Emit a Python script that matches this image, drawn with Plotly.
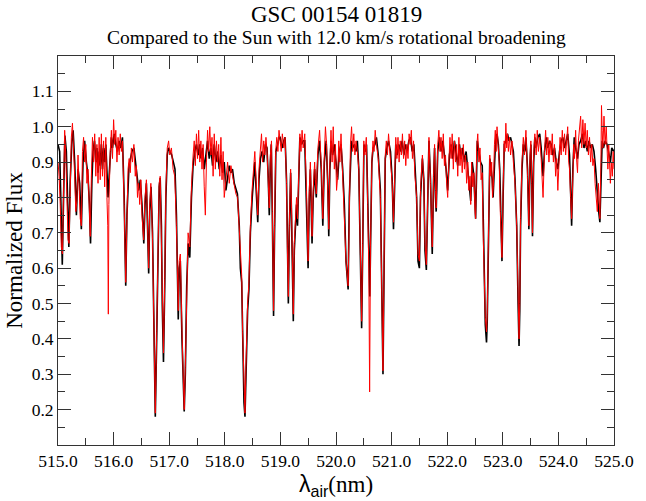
import plotly.graph_objects as go

# ---- Sun (black) spectrum: wavelength (nm), normalized flux ----
sun_wl = [
515.00,515.03,515.05,515.077,515.10,515.124,515.15,515.17,515.195,515.22,515.25,515.272,515.30,515.331,515.36,515.39,515.42,515.45,515.479,515.51,
515.54,515.565,515.585,515.61,515.63,515.656,515.68,515.70,515.72,515.74,515.76,515.78,515.80,515.82,515.84,515.86,515.88,515.90,515.92,515.94,
515.96,515.98,516.01,516.04,516.07,516.10,516.13,516.159,516.19,516.218,516.24,516.277,516.30,516.33,516.365,516.40,516.43,516.454,516.48,516.51,
516.543,516.565,516.59,516.61,516.631,516.65,516.673,516.70,516.72,516.75,516.775,516.80,516.82,516.838,516.86,516.875,516.897,516.92,516.94,516.965,
516.986,517.015,517.045,517.075,517.104,517.13,517.163,517.18,517.20,517.23,517.255,517.27,517.29,517.315,517.341,517.37,517.40,517.429,517.46,517.49,
517.52,517.547,517.57,517.60,517.63,517.66,517.69,517.72,517.75,517.78,517.81,517.84,517.87,517.90,517.93,517.96,517.99,518.02,518.05,518.08,
518.11,518.138,518.17,518.20,518.227,518.26,518.28,518.304,518.32,518.345,518.363,518.38,518.392,518.41,518.434,518.46,518.493,518.52,518.54,518.565,
518.593,518.615,518.641,518.67,518.70,518.73,518.759,518.78,518.80,518.82,518.836,518.855,518.877,518.895,518.918,518.95,518.975,518.995,519.03,519.06,
519.084,519.11,519.125,519.143,519.16,519.184,519.20,519.215,519.232,519.25,519.273,519.29,519.308,519.33,519.350,519.38,519.41,519.438,519.47,519.498,
519.52,519.539,519.555,519.569,519.59,519.616,519.63,519.645,519.675,519.705,519.735,519.763,519.79,519.823,519.85,519.870,519.89,519.911,519.94,519.97,
520.00,520.029,520.06,520.09,520.12,520.15,520.18,520.218,520.24,520.277,520.30,520.33,520.36,520.384,520.41,520.44,520.461,520.48,520.502,520.525,
520.549,520.57,520.591,520.608,520.625,520.645,520.667,520.70,520.727,520.76,520.798,520.82,520.845,520.865,520.886,520.915,520.945,520.98,521.01,521.034,
521.055,521.075,521.10,521.13,521.16,521.19,521.22,521.25,521.28,521.31,521.34,521.37,521.40,521.425,521.45,521.475,521.50,521.52,521.554,521.58,
521.60,521.625,521.645,521.672,521.70,521.731,521.755,521.773,521.79,521.802,521.83,521.861,521.89,521.92,521.95,521.98,522.009,522.04,522.07,522.10,
522.13,522.16,522.19,522.22,522.25,522.28,522.31,522.34,522.37,522.40,522.423,522.45,522.48,522.511,522.541,522.57,522.60,522.63,522.65,522.665,
522.685,522.707,522.72,522.735,522.75,522.766,522.79,522.81,522.825,522.85,522.87,522.896,522.92,522.945,522.965,522.985,523.005,523.026,523.055,523.085,
523.11,523.14,523.165,523.19,523.22,523.25,523.275,523.292,523.305,523.32,523.345,523.369,523.395,523.416,523.445,523.469,523.49,523.505,523.52,523.534,
523.555,523.576,523.60,523.63,523.664,523.69,523.724,523.75,523.783,523.81,523.84,523.871,523.90,523.93,523.96,523.99,524.02,524.05,524.078,524.11,
524.14,524.167,524.20,524.22,524.238,524.26,524.285,524.31,524.344,524.37,524.40,524.433,524.46,524.49,524.52,524.55,524.58,524.61,524.64,524.67,
524.70,524.725,524.746,524.765,524.787,524.81,524.84,524.876,524.905,524.935,524.96,525.00]
sun_flux = [
0.95,0.93,0.80,0.61,0.80,0.975,0.93,0.80,0.66,0.85,0.96,0.99,0.90,0.75,0.88,0.84,0.71,0.90,0.96,0.90,
0.86,0.78,0.67,0.85,0.93,0.96,0.90,0.94,0.87,0.93,0.89,0.95,0.88,0.94,0.90,0.95,0.85,0.80,0.86,0.93,
0.97,0.94,0.98,0.95,0.93,0.96,0.94,0.97,0.80,0.55,0.75,0.89,0.91,0.93,0.94,0.88,0.85,0.82,0.85,0.78,
0.67,0.78,0.84,0.72,0.585,0.76,0.83,0.70,0.42,0.18,0.40,0.70,0.83,0.855,0.72,0.50,0.335,0.55,0.80,0.92,
0.94,0.93,0.92,0.90,0.88,0.75,0.455,0.60,0.62,0.40,0.22,0.195,0.30,0.55,0.67,0.63,0.80,0.89,0.93,0.95,
0.92,0.95,0.91,0.94,0.88,0.92,0.96,0.91,0.94,0.89,0.95,0.90,0.93,0.88,0.92,0.87,0.90,0.82,0.86,0.89,
0.87,0.88,0.84,0.82,0.81,0.72,0.60,0.56,0.40,0.22,0.18,0.30,0.39,0.48,0.54,0.70,0.80,0.87,0.90,0.82,
0.73,0.85,0.91,0.93,0.90,0.95,0.94,0.86,0.75,0.90,0.95,0.75,0.465,0.70,0.93,0.95,0.97,0.97,0.94,0.96,
0.97,0.85,0.65,0.50,0.70,0.87,0.75,0.55,0.45,0.65,0.75,0.78,0.72,0.88,0.97,0.95,0.96,0.96,0.80,0.60,
0.80,0.88,0.77,0.67,0.80,0.88,0.84,0.80,0.92,0.96,0.88,0.72,0.90,0.96,0.85,0.69,0.88,0.96,0.92,0.95,
0.90,0.85,0.93,0.95,0.88,0.78,0.62,0.54,0.80,0.96,0.94,0.95,0.93,0.96,0.88,0.60,0.43,0.65,0.95,0.93,
0.95,0.80,0.63,0.52,0.70,0.90,0.94,0.95,0.97,0.92,0.82,0.55,0.30,0.60,0.91,0.94,0.96,0.93,0.85,0.71,
0.87,0.95,0.92,0.95,0.93,0.96,0.92,0.95,0.93,0.96,0.97,0.93,0.95,0.88,0.80,0.62,0.60,0.80,0.91,0.85,
0.65,0.595,0.80,0.96,0.85,0.64,0.85,0.94,0.80,0.76,0.93,0.97,0.93,0.96,0.92,0.88,0.82,0.92,0.95,0.91,
0.96,0.93,0.89,0.95,0.91,0.94,0.90,0.93,0.88,0.84,0.79,0.90,0.86,0.74,0.96,0.93,0.90,0.89,0.70,0.54,
0.44,0.39,0.45,0.60,0.80,0.91,0.88,0.85,0.80,0.92,0.96,0.98,0.95,0.88,0.72,0.62,0.80,0.95,0.96,0.98,
0.96,0.97,0.95,0.93,0.85,0.72,0.50,0.38,0.48,0.72,0.88,0.95,0.93,0.97,0.88,0.71,0.90,0.95,0.85,0.69,
0.90,0.97,0.94,0.97,0.98,0.94,0.86,0.93,0.97,0.94,0.96,0.95,0.92,0.94,0.90,0.88,0.93,0.96,0.97,0.94,
0.96,0.98,0.92,0.82,0.72,0.88,0.97,0.94,0.91,0.95,0.96,0.98,0.94,0.96,0.93,0.96,0.94,0.95,0.93,0.88,
0.80,0.76,0.73,0.85,0.96,0.94,0.96,0.95,0.92,0.90,0.94,0.93]

# ---- Star (red) spectrum ----
star_wl = [
515.00,515.02,515.04,515.06,515.08,515.10,515.12,515.14,515.16,515.18,515.20,515.22,515.24,515.26,515.28,515.30,515.32,515.34,515.36,515.38,
515.40,515.42,515.44,515.46,515.48,515.50,515.52,515.54,515.56,515.58,515.60,515.62,515.64,515.66,515.68,515.70,515.72,515.74,515.76,515.78,
515.80,515.82,515.84,515.86,515.88,515.895,515.905,515.915,515.94,515.96,515.98,516.00,516.02,516.04,516.06,516.08,516.10,516.12,516.14,516.16,
516.19,516.218,516.24,516.26,516.28,516.30,516.32,516.34,516.365,516.39,516.41,516.43,516.45,516.47,516.49,516.51,516.54,516.565,516.59,516.61,
516.63,516.65,516.67,516.70,516.72,516.75,516.775,516.80,516.82,516.838,516.86,516.875,516.897,516.92,516.94,516.965,516.99,517.01,517.04,517.07,
517.10,517.13,517.163,517.18,517.20,517.23,517.255,517.27,517.29,517.315,517.34,517.37,517.40,517.43,517.45,517.47,517.49,517.51,517.53,517.55,
517.57,517.59,517.61,517.63,517.65,517.67,517.69,517.71,517.73,517.75,517.77,517.79,517.81,517.83,517.85,517.87,517.89,517.91,517.93,517.95,
517.97,517.99,518.02,518.05,518.08,518.11,518.14,518.17,518.20,518.23,518.26,518.28,518.304,518.32,518.345,518.363,518.38,518.392,518.41,518.434,
518.46,518.49,518.515,518.54,518.565,518.593,518.615,518.64,518.66,518.68,518.70,518.72,518.74,518.76,518.78,518.80,518.82,518.84,518.855,518.877,
518.895,518.915,518.935,518.955,518.975,518.995,519.015,519.035,519.06,519.084,519.11,519.125,519.143,519.16,519.184,519.20,519.215,519.232,519.25,519.273,
519.29,519.308,519.33,519.35,519.37,519.39,519.41,519.438,519.47,519.498,519.52,519.539,519.555,519.569,519.59,519.616,519.63,519.645,519.675,519.705,
519.735,519.763,519.79,519.81,519.83,519.85,519.870,519.89,519.91,519.93,519.95,519.97,519.99,520.01,520.03,520.05,520.07,520.09,520.11,520.13,
520.15,520.18,520.218,520.24,520.26,520.28,520.30,520.32,520.34,520.36,520.384,520.41,520.44,520.461,520.48,520.50,520.52,520.545,520.57,520.59,
520.605,520.62,520.645,520.665,520.685,520.705,520.727,520.76,520.798,520.82,520.845,520.865,520.886,520.905,520.925,520.945,520.97,520.99,521.01,521.034,
521.055,521.075,521.095,521.115,521.135,521.155,521.175,521.195,521.215,521.235,521.255,521.275,521.295,521.315,521.335,521.355,521.375,521.395,521.42,521.45,
521.475,521.50,521.52,521.554,521.58,521.60,521.625,521.645,521.672,521.70,521.731,521.755,521.773,521.79,521.802,521.83,521.85,521.87,521.89,521.91,
521.93,521.95,521.97,521.99,522.009,522.03,522.05,522.07,522.09,522.11,522.13,522.15,522.17,522.19,522.21,522.23,522.25,522.27,522.29,522.31,
522.33,522.35,522.37,522.39,522.41,522.423,522.44,522.46,522.48,522.50,522.511,522.53,522.55,522.57,522.59,522.61,522.63,522.65,522.665,522.685,
522.707,522.72,522.735,522.75,522.766,522.785,522.80,522.815,522.83,522.85,522.865,522.88,522.896,522.915,522.935,522.955,522.975,522.985,523.005,523.025,
523.04,523.055,523.07,523.085,523.10,523.12,523.14,523.165,523.19,523.22,523.25,523.275,523.292,523.305,523.32,523.345,523.369,523.39,523.416,523.445,
523.469,523.49,523.505,523.52,523.534,523.555,523.576,523.60,523.62,523.64,523.664,523.69,523.71,523.724,523.75,523.77,523.79,523.81,523.83,523.85,
523.871,523.89,523.91,523.93,523.95,523.97,523.99,524.01,524.03,524.05,524.07,524.09,524.11,524.13,524.15,524.167,524.185,524.20,524.22,524.238,
524.26,524.275,524.29,524.31,524.33,524.344,524.36,524.38,524.40,524.42,524.44,524.46,524.48,524.50,524.52,524.54,524.56,524.58,524.60,524.62,
524.64,524.66,524.68,524.70,524.72,524.746,524.765,524.775,524.787,524.80,524.82,524.84,524.86,524.876,524.89,524.905,524.92,524.935,524.95,524.97,
524.985,525.00]
star_flux = [
0.90,0.86,0.78,0.66,0.64,0.82,0.99,0.92,0.78,0.68,0.67,0.86,0.97,1.01,0.95,0.86,0.76,0.79,0.92,0.82,
0.74,0.72,0.93,0.97,0.90,0.95,0.84,0.88,0.76,0.69,0.86,0.97,0.90,0.98,0.86,0.95,0.84,0.97,0.85,0.98,
0.86,0.96,0.83,0.97,0.80,0.72,0.47,0.78,0.93,0.99,0.91,1.02,0.95,0.99,0.90,0.97,0.92,0.98,0.93,0.96,
0.78,0.56,0.74,0.88,0.91,0.87,0.94,0.90,0.95,0.86,0.89,0.80,0.84,0.78,0.85,0.75,0.68,0.80,0.85,0.70,
0.60,0.78,0.84,0.68,0.42,0.19,0.42,0.72,0.84,0.86,0.70,0.52,0.36,0.57,0.82,0.94,0.96,0.92,0.94,0.88,
0.86,0.72,0.48,0.62,0.64,0.42,0.24,0.20,0.32,0.56,0.70,0.66,0.83,0.92,0.96,0.89,0.98,0.91,0.99,0.90,
0.96,0.88,0.95,0.83,0.75,0.90,0.99,0.93,1.00,0.92,0.97,0.86,0.98,0.88,0.96,0.90,0.95,0.86,0.97,0.85,
0.93,0.80,0.85,0.90,0.84,0.89,0.86,0.83,0.81,0.80,0.70,0.62,0.58,0.42,0.24,0.19,0.32,0.41,0.50,0.56,
0.72,0.82,0.88,0.93,0.84,0.75,0.88,0.93,0.98,0.90,0.96,0.92,0.97,0.93,0.84,0.77,0.92,0.96,0.76,0.48,
0.72,0.93,0.97,0.93,0.99,0.96,0.93,0.98,0.94,0.97,0.84,0.66,0.52,0.72,0.88,0.77,0.57,0.47,0.67,0.77,
0.80,0.74,0.90,0.98,0.93,0.99,0.94,0.98,0.82,0.62,0.82,0.90,0.79,0.69,0.82,0.90,0.85,0.81,0.94,0.99,
0.89,0.74,0.92,1.00,0.95,0.86,0.71,0.90,0.99,0.90,1.00,0.88,0.95,0.82,0.86,0.96,0.90,0.98,0.90,0.84,
0.78,0.62,0.55,0.80,0.95,1.00,0.93,0.98,0.92,0.96,0.93,0.88,0.62,0.45,0.67,0.96,0.92,0.97,0.78,0.60,
0.25,0.66,0.90,0.96,0.93,0.99,0.95,0.91,0.80,0.56,0.31,0.62,0.92,0.96,0.92,0.98,0.93,0.88,0.84,0.73,
0.88,0.97,0.91,0.97,0.90,0.96,0.92,0.98,0.91,0.96,0.89,0.95,0.91,0.98,0.95,0.99,0.91,0.96,0.86,0.80,
0.64,0.62,0.82,0.92,0.84,0.67,0.61,0.82,0.97,0.84,0.66,0.86,0.95,0.82,0.77,0.95,0.99,0.93,0.97,0.91,
0.98,0.89,0.92,0.84,0.80,0.90,0.97,0.91,0.98,0.88,0.96,0.90,0.95,0.86,0.97,0.89,0.94,0.87,0.95,0.88,
0.92,0.84,0.90,0.82,0.86,0.78,0.90,0.83,0.87,0.76,0.74,0.94,0.98,0.90,0.94,0.85,0.87,0.68,0.55,0.46,
0.42,0.47,0.62,0.82,0.92,0.86,0.90,0.80,0.83,0.95,0.99,0.93,1.00,0.95,0.90,0.76,0.66,0.63,0.82,0.96,
0.93,1.01,0.94,0.98,0.93,0.97,0.92,0.96,0.90,0.84,0.72,0.52,0.40,0.50,0.74,0.90,0.97,0.92,0.99,0.86,
0.72,0.92,0.96,0.84,0.70,0.92,0.98,0.92,0.99,0.93,0.97,0.91,0.86,0.80,0.93,0.99,0.92,0.97,0.90,0.96,
0.92,0.98,0.90,0.95,0.86,0.91,0.82,0.92,0.97,0.92,0.99,0.93,0.98,0.92,0.97,1.00,0.90,0.88,0.80,0.74,
0.86,0.95,0.91,0.99,0.90,0.87,0.96,1.01,1.03,0.94,1.02,0.95,1.01,0.94,0.99,0.92,0.97,0.90,0.95,0.89,
0.91,0.84,0.80,0.76,0.84,0.74,0.90,1.06,0.99,0.94,1.03,0.95,1.00,0.92,0.88,0.95,0.86,0.84,0.90,0.86,
0.93,0.88]

x_ticks = [515, 516, 517, 518, 519, 520, 521, 522, 523, 524, 525]
y_ticks = [0.2, 0.3, 0.4, 0.5, 0.6, 0.7, 0.8, 0.9, 1.0, 1.1]

serif = "Liberation Serif"

fig = go.Figure()
fig.add_trace(go.Scatter(x=sun_wl, y=sun_flux, mode="lines",
                         line=dict(color="black", width=1.6), name="Sun"))
fig.add_trace(go.Scatter(x=star_wl, y=star_flux, mode="lines",
                         line=dict(color="#ff0000", width=1.0), name="Star"))

axis_common = dict(showline=True, linecolor="#333", linewidth=1, mirror="ticks",
                   ticks="inside", tickcolor="#333", showgrid=False, zeroline=False,
                   tickfont=dict(family=serif, size=17.5, color="black"))

fig.update_xaxes(range=[515, 525], tickmode="array", tickvals=x_ticks,
                 ticktext=[f"{v:.1f}" for v in x_ticks], ticklen=13,
                 minor=dict(dtick=0.5, tick0=515, ticklen=7, ticks="inside", tickcolor="#333"),
                 title=dict(text='<span style="font-family:Liberation Sans">λ<sub>air</sub></span>(nm)',
                            font=dict(family=serif, size=23, color="black"), standoff=2),
                 **axis_common)
fig.update_yaxes(range=[0.1, 1.2], tickmode="array", tickvals=y_ticks,
                 ticktext=[f"{v:.1f}" for v in y_ticks], ticklen=13,
                 minor=dict(dtick=0.05, tick0=0.1, ticklen=7, ticks="inside", tickcolor="#333"),
                 title=dict(text="Normalized Flux", font=dict(family=serif, size=23, color="black"),
                            standoff=2),
                 **axis_common)

fig.add_annotation(text="GSC 00154 01819", xref="paper", yref="paper", x=0.5, y=1.106,
                   xanchor="center", yanchor="middle", showarrow=False,
                   font=dict(family=serif, size=23, color="black"))
fig.add_annotation(text="Compared to the Sun with 12.0 km/s rotational broadening",
                   xref="paper", yref="paper", x=0.5, y=1.048,
                   xanchor="center", yanchor="middle", showarrow=False,
                   font=dict(family=serif, size=19.5, color="black"))

fig.update_layout(width=646, height=501, margin=dict(l=58, r=24, t=56, b=50),
                  paper_bgcolor="white", plot_bgcolor="white", showlegend=False,
                  font=dict(family=serif, color="black"))

fig.write_html("out.html")
